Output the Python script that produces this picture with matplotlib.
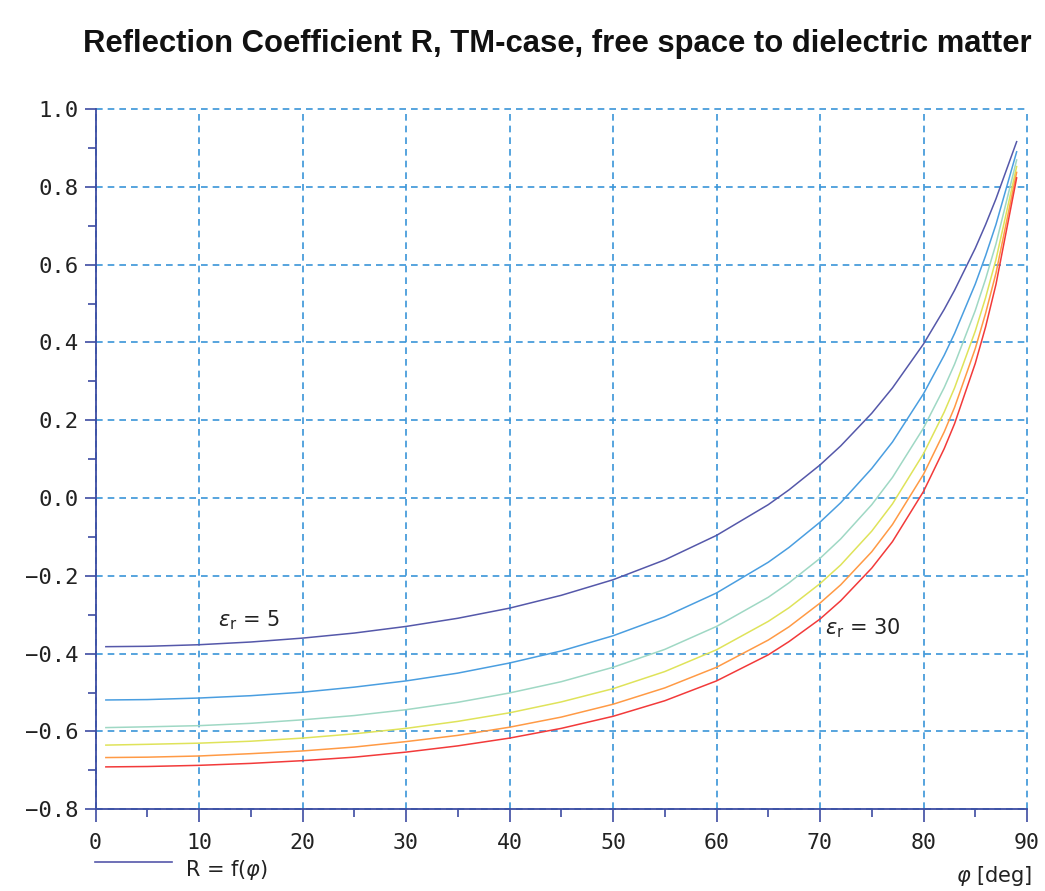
import matplotlib
matplotlib.use("Agg")
import matplotlib.pyplot as plt
from matplotlib.lines import Line2D
from matplotlib.ticker import MultipleLocator

# incidence angle [deg]
phi = [1, 5, 10, 15, 20, 25, 30, 35, 40, 45, 50, 55, 60, 65, 67, 70, 72, 75, 77, 80,
       82, 83, 85, 86, 87, 89]

# reflection coefficient R, one list per epsilon_r
r_eps5 = [-0.382, -0.381, -0.377, -0.370, -0.360, -0.347, -0.330, -0.309, -0.283, -0.250,
          -0.210, -0.159, -0.096, -0.017, 0.021, 0.085, 0.134, 0.218, 0.283, 0.396,
          0.485, 0.534, 0.642, 0.703, 0.769, 0.916]
r_eps10 = [-0.519, -0.518, -0.514, -0.508, -0.499, -0.486, -0.470, -0.450, -0.424, -0.393,
           -0.354, -0.305, -0.244, -0.165, -0.127, -0.062, -0.012, 0.076, 0.144, 0.268,
           0.367, 0.423, 0.550, 0.623, 0.703, 0.890]
r_eps15 = [-0.590, -0.588, -0.585, -0.579, -0.570, -0.559, -0.544, -0.525, -0.501, -0.472,
           -0.435, -0.389, -0.330, -0.255, -0.218, -0.155, -0.105, -0.017, 0.053, 0.180,
           0.284, 0.344, 0.482, 0.563, 0.653, 0.869]
r_eps20 = [-0.635, -0.633, -0.630, -0.625, -0.617, -0.606, -0.592, -0.574, -0.552, -0.524,
           -0.490, -0.446, -0.390, -0.317, -0.282, -0.220, -0.172, -0.085, -0.015, 0.114,
           0.221, 0.283, 0.429, 0.515, 0.613, 0.852]
r_eps25 = [-0.667, -0.666, -0.663, -0.657, -0.650, -0.640, -0.626, -0.610, -0.589, -0.563,
           -0.530, -0.488, -0.435, -0.365, -0.331, -0.270, -0.223, -0.138, -0.068, 0.061,
           0.170, 0.233, 0.384, 0.475, 0.578, 0.837]
r_eps30 = [-0.691, -0.690, -0.687, -0.682, -0.675, -0.666, -0.653, -0.637, -0.617, -0.592,
           -0.561, -0.521, -0.470, -0.403, -0.369, -0.311, -0.264, -0.180, -0.112, 0.017,
           0.127, 0.191, 0.346, 0.440, 0.549, 0.823]

series = [r_eps5, r_eps10, r_eps15, r_eps20, r_eps25, r_eps30]
colors = ["#5558aa", "#4a9ee0", "#9fd8c4", "#dfe35a", "#ff9a45", "#f23a3a"]

x_ticks = [0, 10, 20, 30, 40, 50, 60, 70, 80, 90]
y_ticks = [-0.8, -0.6, -0.4, -0.2, 0.0, 0.2, 0.4, 0.6, 0.8, 1.0]

title = "Reflection Coefficient R, TM-case, free space to dielectric matter"

W, H = 1045, 891
fig = plt.figure(figsize=(W / 100, H / 100), dpi=100)
ax = fig.add_axes([95.5 / W, 1 - 809.3 / H, (1027 - 95.5) / W, (809.3 - 109) / H])

axis_col = "#3d4ca2"
grid_col = "#3a95d8"

for ys, c in zip(series, colors):
    ax.plot(phi, ys, color=c, lw=1.1, zorder=3)

ax.set_xlim(0, 90)
ax.set_ylim(-0.8, 1.0)
ax.set_xticks(x_ticks)
ax.set_yticks(y_ticks)
ax.set_xticklabels([str(v) for v in x_ticks])
ax.set_yticklabels([f"{v:.1f}".replace("-", "\u2212") for v in y_ticks])
ax.xaxis.set_minor_locator(MultipleLocator(5))
ax.yaxis.set_minor_locator(MultipleLocator(0.1))

for s in ["top", "right"]:
    ax.spines[s].set_visible(False)
for s in ["left", "bottom"]:
    ax.spines[s].set_color(axis_col)
    ax.spines[s].set_linewidth(1.3)

mono = "DejaVu Sans Mono"
ax.tick_params(axis="both", which="major", direction="out", length=8, width=1.2,
               color=axis_col, labelcolor="#222222")
ax.tick_params(axis="x", which="major", length=9, pad=8, labelsize=15.5)
ax.tick_params(axis="y", which="major", length=8, pad=4, labelsize=16)
ax.tick_params(axis="both", which="minor", direction="out", length=6, width=1.2,
               color=axis_col)
for lab in ax.get_xticklabels() + ax.get_yticklabels():
    lab.set_fontfamily(mono)

ax.grid(True, which="major", color=grid_col, linestyle=(0, (4, 3)), lw=1.2, zorder=1)
ax.set_axisbelow(True)
for gl in ax.get_xgridlines() + ax.get_ygridlines():
    gl.set_clip_on(False)

fig.text(0.5 * (85 + 1030) / W, 1 - 44 / H, title, ha="center", va="center",
         fontsize=22.3, fontweight="bold", family="Liberation Sans", color="#111111")

ax.text(11.8, -0.33, r"$\varepsilon_{\rm r}$ = 5", fontsize=15, family="DejaVu Sans",
        color="#222222")
ax.text(70.5, -0.35, r"$\varepsilon_{\rm r}$ = 30", fontsize=15, family="DejaVu Sans",
        color="#222222")

fig.add_artist(Line2D([95 / W, 172 / W], [1 - 862 / H, 1 - 862 / H], color=colors[0], lw=1.2))
fig.text(185 / W, 1 - 870 / H, r"R = f($\varphi$)", fontsize=15, family="DejaVu Sans",
         color="#222222", va="center")
fig.text(1032 / W, 1 - 876 / H, r"$\varphi$ [deg]", fontsize=15, family="DejaVu Sans",
         color="#222222", va="center", ha="right")

fig.savefig("out.png", dpi=100)
